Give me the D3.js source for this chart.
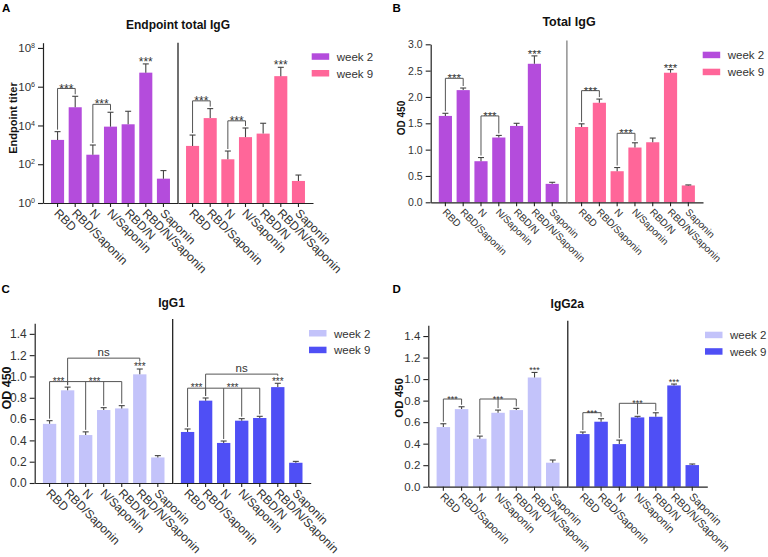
<!DOCTYPE html>
<html><head><meta charset="utf-8">
<script src="https://cdn.jsdelivr.net/npm/d3@7"></script>
<style>body{margin:0;background:#fff} svg{display:block}</style>
</head><body><svg id="c" width="768" height="557"></svg>
<script>
// ---------------- data ----------------
const categories = ["RBD", "RBD/Saponin", "N", "N/Saponin", "RBD/N", "RBD/N/Saponin", "Saponin"];
const groups = ["week 2", "week 9"];

// A: endpoint total IgG titer (mean, upper error)
const titerWeek2    = [1800, 87000, 310, 8700, 11500, 5300000, 18];
const titerWeek2Err = [3000, 233000, 670, 39300, 42500, 9700000, 29];
const titerWeek9    = [880, 24000, 180, 2500, 3800, 3500000, 13.7];
const titerWeek9Err = [2320, 50000, 300, 4900, 9200, 6500000, 14];
const titerTicks = [1, 1e2, 1e4, 1e6, 1e8];

// B: total IgG OD450
const totalWeek2    = [1.64, 2.13, 0.78, 1.23, 1.45, 2.63, 0.35];
const totalWeek2Err = [0.05, 0.04, 0.07, 0.04, 0.05, 0.15, 0.03];
const totalWeek9    = [1.43, 1.89, 0.59, 1.04, 1.14, 2.46, 0.32];
const totalWeek9Err = [0.06, 0.07, 0.07, 0.09, 0.08, 0.06, 0.01];
const totalTicks = [0, 0.5, 1.0, 1.5, 2.0, 2.5, 3.0];

// C: IgG1 OD450
const igg1Week2    = [0.555, 0.87, 0.45, 0.685, 0.70, 1.02, 0.24];
const igg1Week2Err = [0.03, 0.03, 0.03, 0.022, 0.026, 0.05, 0.017];
const igg1Week9    = [0.479, 0.773, 0.376, 0.585, 0.61, 0.90, 0.19];
const igg1Week9Err = [0.028, 0.025, 0.018, 0.019, 0.016, 0.036, 0.013];

// D: IgG2a OD450
const igg2aWeek2    = [0.554, 0.721, 0.446, 0.687, 0.712, 1.015, 0.223];
const igg2aWeek2Err = [0.031, 0.022, 0.024, 0.025, 0.016, 0.047, 0.025];
const igg2aWeek9    = [0.489, 0.604, 0.396, 0.644, 0.65, 0.941, 0.201];
const igg2aWeek9Err = [0.019, 0.028, 0.037, 0.01, 0.037, 0.013, 0.01];
const subclassTicks = [0, 0.2, 0.4, 0.6, 0.8, 1.0, 1.2, 1.4];

// significance annotations (group index, bar indices, bracket level in data units)
const sigA = [
  {g: 0, legs: [0, 1], level: 10 ** 5.91, text: "***", at: 0.5},
  {g: 0, legs: [2, 3], level: 10 ** 5.09, text: "***", at: 2.5},
  {g: 1, legs: [0, 1], level: 10 ** 5.27, text: "***", at: 0.5},
  {g: 1, legs: [2, 3], level: 10 ** 4.24, text: "***", at: 2.5}
];
const sigB = [
  {g: 0, legs: [0, 1], level: 2.354, text: "***", at: 0.5},
  {g: 0, legs: [2, 3], level: 1.64, text: "***", at: 2.5},
  {g: 1, legs: [0, 1], level: 2.12, text: "***", at: 0.5},
  {g: 1, legs: [2, 3], level: 1.31, text: "***", at: 2.5}
];
const sigC = [
  {g: 0, legs: [0, 1, 2, 3, 4], level: 0.952, text: "***", at: [0.5, 2.5]},
  {g: 0, legs: [1, 5], level: 1.172, text: "ns", at: 3},
  {g: 1, legs: [0, 1, 2, 3, 4], level: 0.89, text: "***", at: [0.5, 2.5]},
  {g: 1, legs: [1, 5], level: 1.022, text: "ns", at: 3}
];
const sigD = [
  {g: 0, legs: [0, 1], level: 0.815, text: "***", at: 0.5},
  {g: 0, legs: [2, 3, 4], level: 0.815, text: "***", at: 3},
  {g: 1, legs: [0, 1], level: 0.688, text: "***", at: 0.5},
  {g: 1, legs: [2, 3, 4], level: 0.775, text: "***", at: 3}
];
const singleStarBar = 5;

// ---------------- drawing ----------------
const FONT = "'Liberation Sans', Arial, Helvetica, sans-serif";
const svg = d3.select("#c");

function drawPanel(p) {
  const g = svg.append("g").attr("font-family", FONT);
  const xs = [
    d3.scaleBand().domain(categories).range([p.x0, p.xm]).paddingInner(0.26).paddingOuter(0.455),
    d3.scaleBand().domain(categories).range([p.xm, p.x1]).paddingInner(0.26).paddingOuter(0.455)
  ];
  const y = (p.log ? d3.scaleLog() : d3.scaleLinear()).domain(p.domain).range([p.yBase, p.yTop]);
  const cx = (gi, i) => xs[gi](categories[i]) + xs[gi].bandwidth() / 2;
  const cxf = (gi, f) => {
    const a = Math.floor(f), b = Math.ceil(f);
    return (cx(gi, a) + cx(gi, b)) / 2;
  };
  const series = [[p.w2, p.e2], [p.w9, p.e9]];
  const errTop = (gi, i) => y(series[gi][0][i] + series[gi][1][i]);

  // bars
  series.forEach(([vals, errs], gi) => {
    g.append("g").selectAll("rect").data(vals).join("rect")
      .attr("x", (d, i) => xs[gi](categories[i]))
      .attr("width", xs[gi].bandwidth())
      .attr("y", d => y(d))
      .attr("height", d => p.yBase - y(d))
      .attr("fill", p.colors[gi]);
    const eg = g.append("g").attr("stroke", "#444").attr("stroke-width", 1.1);
    vals.forEach((v, i) => {
      const x = cx(gi, i), t = y(v + errs[i]);
      eg.append("line").attr("x1", x).attr("x2", x).attr("y1", y(v)).attr("y2", t);
      eg.append("line").attr("x1", x - 3).attr("x2", x + 3).attr("y1", t).attr("y2", t);
    });
  });

  // y axis
  const ya = g.append("g").attr("transform", `translate(${p.x0},0)`)
    .call(d3.axisLeft(y).tickValues(p.ticks).tickSize(5).tickSizeOuter(0).tickPadding(3)
      .tickFormat(p.log ? (() => "") : d3.format(".1f")));
  ya.select(".domain").attr("stroke", "#222").attr("stroke-width", 1.2);
  ya.selectAll(".tick line").attr("stroke", "#222").attr("stroke-width", 1.1);
  ya.selectAll(".tick text").attr("fill", "#333").attr("font-size", p.tickFont).attr("font-family", FONT);
  if (p.log) {
    ya.selectAll(".tick text").each(function(d) {
      const t = d3.select(this);
      t.append("tspan").text("10");
      t.append("tspan").attr("dy", "-0.55em").attr("font-size", "0.62em").text(Math.round(Math.log10(d)));
    });
  }

  // x axes
  xs.forEach(xsc => {
    const xa = g.append("g").attr("transform", `translate(0,${p.yBase})`)
      .call(d3.axisBottom(xsc).tickSize(4).tickSizeOuter(0));
    xa.select(".domain").attr("stroke", "#222").attr("stroke-width", 1.2);
    xa.selectAll(".tick line").attr("stroke", "#222").attr("stroke-width", 1.1);
    xa.selectAll(".tick text")
      .attr("y", 0).attr("dy", "0.35em")
      .attr("transform", "translate(-1,8) rotate(45)")
      .attr("text-anchor", "start")
      .attr("fill", "#333").attr("font-size", p.xFont).attr("font-family", FONT);
  });

  // divider
  g.append("line").attr("x1", p.xm).attr("x2", p.xm).attr("y1", p.divTop).attr("y2", p.yBase)
    .attr("stroke", p.divColor).attr("stroke-width", 1.2);

  // single stars
  const fs = p.starFont;
  [0, 1].forEach(gi => {
    g.append("text").attr("x", cx(gi, singleStarBar))
      .attr("y", errTop(gi, singleStarBar) + fs * 0.43 - 3)
      .attr("text-anchor", "middle").attr("font-size", fs).attr("fill", "#333").text("***");
  });

  // brackets
  const bg = g.append("g").attr("stroke", "#555").attr("stroke-width", 1).attr("fill", "none");
  p.sig.forEach(s => {
    const ly = y(s.level);
    const xsLegs = s.legs.map(i => cx(s.g, i));
    bg.append("line").attr("x1", d3.min(xsLegs)).attr("x2", d3.max(xsLegs)).attr("y1", ly).attr("y2", ly);
    s.legs.forEach(i => {
      let bottom = errTop(s.g, i) - 2;
      if (i === singleStarBar) bottom = errTop(s.g, i) - 3 - fs * 0.3 - 1.5;
      bg.append("line").attr("x1", cx(s.g, i)).attr("x2", cx(s.g, i)).attr("y1", ly).attr("y2", bottom);
    });
    const ats = Array.isArray(s.at) ? s.at : [s.at];
    ats.forEach(a => {
      const isNs = s.text === "ns";
      const x = isNs ? (cx(s.g, s.legs[0]) + cx(s.g, s.legs[s.legs.length - 1])) / 2 : cxf(s.g, a);
      g.append("text").attr("x", x)
        .attr("y", isNs ? ly - 2 : ly + fs * 0.43 - 1)
        .attr("text-anchor", "middle")
        .attr("font-size", isNs ? p.nsFont : fs)
        .attr("fill", "#333").text(s.text);
    });
  });

  // title
  g.append("text").attr("x", p.titleX).attr("y", p.titleY).attr("text-anchor", "middle")
    .attr("font-weight", "bold").attr("font-size", p.titleFont).attr("fill", "#111").text(p.title);
  // y label
  g.append("text").attr("transform", `translate(${p.ylabX},${p.ylabY}) rotate(-90)`)
    .attr("text-anchor", "middle").attr("font-weight", "bold").attr("font-size", p.ylabFont)
    .attr("fill", "#111").text(p.ylab);
  // panel letter
  g.append("text").attr("x", p.letterX).attr("y", p.letterY).attr("font-weight", "bold")
    .attr("font-size", 11.5).attr("fill", "#000").text(p.letter);
  // legend
  groups.forEach((name, gi) => {
    g.append("rect").attr("x", p.legX).attr("y", p.legY + gi * p.legStep).attr("width", 17.5).attr("height", 6.5)
      .attr("fill", p.colors[gi]);
    g.append("text").attr("x", p.legX + 25).attr("y", p.legY + gi * p.legStep + 7.5)
      .attr("font-size", p.legFont).attr("fill", "#333").text(name);
  });
}

const purple = "#B44CDC", pink = "#FF6699", lavender = "#C3C3FA", blue = "#4F4FF5";

drawPanel({
  letter: "A", letterX: 2, letterY: 11.5,
  title: "Endpoint total IgG", titleX: 178, titleY: 28.5, titleFont: 12,
  ylab: "Endpoint titer", ylabX: 16.5, ylabY: 118, ylabFont: 11,
  x0: 43, xm: 178, x1: 313, yTop: 42.7, yBase: 203, divTop: 42.7, divColor: "#111",
  log: true, domain: [1, 10 ** 8.27], ticks: titerTicks, tickFont: 11.5, xFont: 12,
  w2: titerWeek2, e2: titerWeek2Err, w9: titerWeek9, e9: titerWeek9Err,
  colors: [purple, pink], sig: sigA, starFont: 12, nsFont: 11,
  legX: 311.7, legY: 53.3, legStep: 16.7, legFont: 11.5
});

drawPanel({
  letter: "B", letterX: 392.5, letterY: 11.5,
  title: "Total IgG", titleX: 569, titleY: 26, titleFont: 12.5,
  ylab: "OD 450", ylabX: 405, ylabY: 118, ylabFont: 10,
  x0: 430.7, xm: 566.9, x1: 703, yTop: 44.3, yBase: 202.3, divTop: 40.5, divColor: "#777",
  log: false, domain: [0, 3], ticks: totalTicks, tickFont: 10.5, xFont: 10,
  w2: totalWeek2, e2: totalWeek2Err, w9: totalWeek9, e9: totalWeek9Err,
  colors: [purple, pink], sig: sigB, starFont: 11.5, nsFont: 11,
  legX: 702.7, legY: 51.7, legStep: 17, legFont: 11.5
});

drawPanel({
  letter: "C", letterX: 1.5, letterY: 293,
  title: "IgG1", titleX: 171.5, titleY: 306.5, titleFont: 12,
  ylab: "OD 450", ylabX: 10.7, ylabY: 388, ylabFont: 12.5,
  x0: 34.7, xm: 172.7, x1: 310.7, yTop: 323.2, yBase: 483, divTop: 319, divColor: "#111",
  log: false, domain: [0, 1.5], ticks: subclassTicks, tickFont: 12, xFont: 12,
  w2: igg1Week2, e2: igg1Week2Err, w9: igg1Week9, e9: igg1Week9Err,
  colors: [lavender, blue], sig: sigC, starFont: 10, nsFont: 11.5,
  legX: 309, legY: 330, legStep: 16.7, legFont: 11.5
});

drawPanel({
  letter: "D", letterX: 392.5, letterY: 292.7,
  title: "IgG2a", titleX: 567.3, titleY: 308.3, titleFont: 12,
  ylab: "OD 450", ylabX: 403.3, ylabY: 398, ylabFont: 11.5,
  x0: 428.3, xm: 567.8, x1: 707.3, yTop: 325.3, yBase: 486.7, divTop: 320.7, divColor: "#111",
  log: false, domain: [0, 1.5], ticks: subclassTicks, tickFont: 11.5, xFont: 11,
  w2: igg2aWeek2, e2: igg2aWeek2Err, w9: igg2aWeek9, e9: igg2aWeek9Err,
  colors: [lavender, blue], sig: sigD, starFont: 9, nsFont: 11.5,
  legX: 705, legY: 331.7, legStep: 16.5, legFont: 11.5
});
</script>
</body></html>
